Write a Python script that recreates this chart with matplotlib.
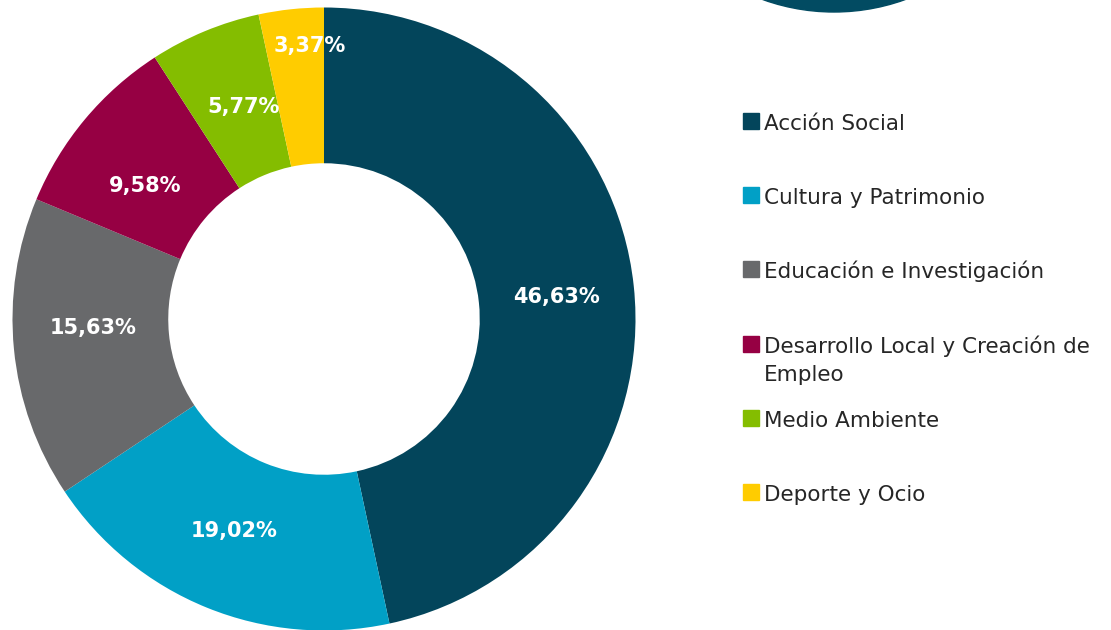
import numpy as np
import matplotlib.pyplot as plt
from matplotlib.patches import Rectangle, Ellipse

categories = ['Acción Social', 'Cultura y Patrimonio', 'Educación e Investigación',
              'Desarrollo Local y Creación de\nEmpleo', 'Medio Ambiente', 'Deporte y Ocio']
shares = [46.63, 19.02, 15.63, 9.58, 5.77, 3.37]
pct_labels = ['46,63%', '19,02%', '15,63%', '9,58%', '5,77%', '3,37%']
colors = ['#03455B', '#01A0C6', '#68696B', '#960043', '#84BD00', '#FFCC00']
# label placement tweaks (radius as fraction of the pie, angle nudge in degrees)
label_radius = [0.75, 0.74, 0.742, 0.716, 0.727, 0.878]
label_nudge = [-0.7, -0.9, -3.4, 3.25, -1.8, -3.0]

W, H = 1111, 630
fig = plt.figure(figsize=(W / 100, H / 100), dpi=100)

cx, cy, r = 324, 630 - 319, 311.5
ax = fig.add_axes([(cx - r) / W, (cy - r) / H, 2 * r / W, 2 * r / H])
wedges, _ = ax.pie(shares, colors=colors, startangle=90, counterclock=False,
                   radius=1, wedgeprops=dict(width=0.5, linewidth=0))
ax.set_xlim(-1, 1)
ax.set_ylim(-1, 1)
ax.set_aspect('equal')
ax.axis('off')

for w, lab, lr, nd in zip(wedges, pct_labels, label_radius, label_nudge):
    ang = np.deg2rad((w.theta1 + w.theta2) / 2 + nd)
    ax.text(lr * np.cos(ang), lr * np.sin(ang), lab, ha='center', va='center',
            color='white', fontsize=15, fontweight='bold')

# decorative circle cut off at the top
fig.patches.append(Ellipse((834 / W, (630 + 198) / H), 2 * 210 / W, 2 * 210 / H,
                           transform=fig.transFigure, color='#024B62', zorder=0))

# legend drawn by hand so the marker sits on the first line of wrapped labels
row_y = 630 - 121
for i, (name, c) in enumerate(zip(categories, colors)):
    y = row_y - 74.2 * i
    fig.patches.append(Rectangle((743 / W, (y - 8) / H), 16 / W, 16 / H,
                                 transform=fig.transFigure, color=c))
    for k, line in enumerate(name.split('\n')):
        fig.text(764 / W, (y - 9 - 28 * k) / H, line, ha='left', va='baseline',
                 fontsize=15.5, color='#262626')

fig.savefig('out.png', dpi=100)
